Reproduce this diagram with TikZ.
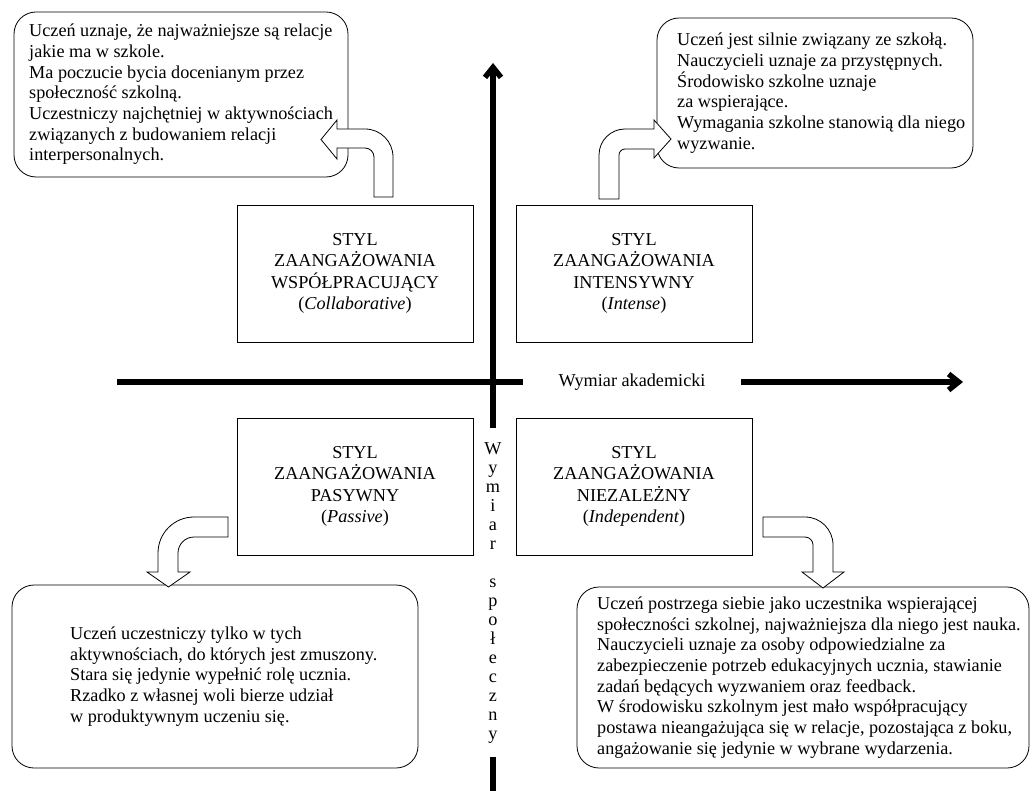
\documentclass[tikz,border=0pt]{standalone}
\usepackage{fontspec}
\setmainfont{Liberation Serif}
\usetikzlibrary{arrows.meta}

\begin{document}
\begin{tikzpicture}[x=1pt,y=-1pt,
  txt/.style={font=\fontsize{18.2}{20.7}\selectfont,align=left,inner sep=0pt,anchor=west},
  rbox/.style={draw,line width=0.8pt,rounded corners=22pt},
  sbox/.style={draw,line width=0.8pt,minimum width=236pt,minimum height=137pt,align=center,font=\fontsize{18.2}{21.5}\selectfont},
  bent/.style={draw,fill=white,line width=0.8pt},
  axisline/.style={line width=5.5pt},
  axtip/.style={-{Straight Barb[length=10pt,width=16pt]}}
]
\useasboundingbox (0,0) rectangle (1032,791);

\node[rbox,minimum width=334pt,minimum height=165pt] (tlbox) at (181,94.5) {};
\node[rbox,minimum width=316pt,minimum height=150pt] (trbox) at (815,93) {};
\node[rbox,minimum width=406pt,minimum height=183pt] (blbox) at (215,676.5) {};
\node[rbox,minimum width=452pt,minimum height=181pt] (brbox) at (803,677.5) {};

\node[sbox] (collab) at (355,273.5) {STYL\\ZAANGAŻOWANIA\\WSPÓŁPRACUJĄCY\\(\textit{Collaborative})};
\node[sbox] (intense) at (634,273.5) {STYL\\ZAANGAŻOWANIA\\INTENSYWNY\\(\textit{Intense})};
\node[sbox] (passive) at (355,486.5) {STYL\\ZAANGAŻOWANIA\\PASYWNY\\(\textit{Passive})};
\node[sbox] (indep) at (634,486.5) {STYL\\ZAANGAŻOWANIA\\NIEZALEŻNY\\(\textit{Independent})};

\coordinate (hleft) at (117,382);
\coordinate (hright) at (963,382);
\node[font=\fontsize{18.2}{20.7}\selectfont,inner xsep=35.5pt,inner ysep=0pt] (hlab) at (632,382) {Wymiar akademicki};
\draw[axisline] (hleft) -- (hlab.west);
\draw[axisline,axtip] (hlab.east) -- (hright);

\coordinate (vbottom) at (493,791);
\coordinate (vtop) at (493,63);
\node[font=\fontsize{18.2}{19}\selectfont,align=center,inner xsep=0pt,inner ysep=14pt,anchor=north] (vlab) at (493,428)
  {W\\y\\m\\i\\a\\r\\[19pt]s\\p\\o\\ł\\e\\c\\z\\n\\y};
\draw[axisline] (vbottom) -- (vlab.south);
\draw[axisline,axtip] (vlab.north) -- (vtop);

\draw[bent] (374,197) -- (393,197) -- (393,157) .. controls (393,141.5) and (380.5,129) .. (365,129) -- (337,129) -- (337,120) -- (321,139.5) -- (337,159) -- (337,148) -- (365,148) .. controls (370,148) and (374,152) .. (374,157) -- cycle;
\draw[bent] (619,199) -- (599,199) -- (599,155) .. controls (599,140.6) and (610.6,129) .. (625,129) -- (654,129) -- (654,120) -- (671,139) -- (654,158) -- (654,149) -- (625,149) .. controls (621.7,149) and (619,151.7) .. (619,155) -- cycle;
\draw[bent] (228,517) -- (194,517) .. controls (174.1,517) and (158,533.1) .. (158,553) -- (158,572) -- (147,572) -- (168.5,587) -- (190,572) -- (178,572) -- (178,553) .. controls (178,544.2) and (185.2,537) .. (194,537) -- (228,537) -- cycle;
\draw[bent] (763,517) -- (805,517) .. controls (820.5,517) and (833,529.5) .. (833,545) -- (833,572) -- (844,572) -- (823,588) -- (802,572) -- (813,572) -- (813,545) .. controls (813,540.6) and (809.4,537) .. (805,537) -- (763,537) -- cycle;

\node[txt] (tltext) at (29,94.5) {Uczeń uznaje, że najważniejsze są relacje\\jakie ma w szkole.\\Ma poczucie bycia docenianym przez\\społeczność szkolną.\\Uczestniczy najchętniej w aktywnościach\\związanych z budowaniem relacji\\interpersonalnych.};
\node[txt] (trtext) at (677,93) {Uczeń jest silnie związany ze szkołą.\\Nauczycieli uznaje za przystępnych.\\Środowisko szkolne uznaje\\za wspierające.\\Wymagania szkolne stanowią dla niego\\wyzwanie.};
\node[txt] (bltext) at (70,676.5) {Uczeń uczestniczy tylko w tych\\aktywnościach, do których jest zmuszony.\\Stara się jedynie wypełnić rolę ucznia.\\Rzadko z własnej woli bierze udział\\w produktywnym uczeniu się.};
\node[txt] (brtext) at (597,677.5) {Uczeń postrzega siebie jako uczestnika wspierającej\\społeczności szkolnej, najważniejsza dla niego jest nauka.\\Nauczycieli uznaje za osoby odpowiedzialne za\\zabezpieczenie potrzeb edukacyjnych ucznia, stawianie\\zadań będących wyzwaniem oraz feedback.\\W środowisku szkolnym jest mało współpracujący\\postawa nieangażująca się w relacje, pozostająca z boku,\\angażowanie się jedynie w wybrane wydarzenia.};
\end{tikzpicture}
\end{document}
